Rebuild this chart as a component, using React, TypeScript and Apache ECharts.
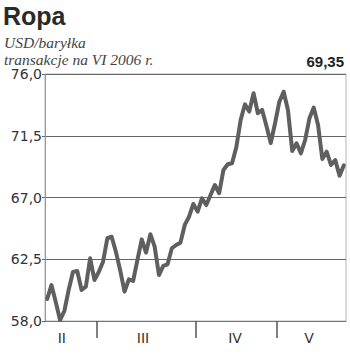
import React, { useEffect, useRef } from "react";
import * as echarts from "echarts";

// Daily crude oil prices (USD/barrel), contracts for VI 2006
const prices: number[] = [
  59.6, 60.62, 59.38, 58.07, 58.73, 60.26, 61.57, 61.64, 60.26, 60.5, 62.57, 60.99,
  61.57, 62.32, 64.03, 64.14, 63.03, 61.67, 60.14, 61.04, 60.92, 62.45, 63.95, 62.98,
  64.32, 63.42, 61.35, 62.01, 62.13, 63.3, 63.54, 63.71, 65.0, 65.6, 66.53,
  65.97, 66.94, 66.45, 67.18, 67.91, 67.31, 69.01, 69.42, 69.49, 70.68, 72.65, 73.79,
  73.26, 74.6, 73.14, 73.38, 72.21, 70.97, 72.41,
  73.98, 74.71, 73.38, 70.39, 70.95, 70.22, 71.19, 72.77, 73.55, 72.29, 69.81, 70.34,
  69.37, 69.73, 68.59, 69.35,
];

// trading days shown per month
const monthLabels: string[] = ["II", "III", "IV", "V"];
const monthDays: number[] = [12, 23, 19, 16];
// where each month label sits on the day axis
const monthLabelAt: number[] = [3.9, 22.8, 44.2, 61.4];

const yTicks: number[] = [58, 62.5, 67, 71.5, 76];

const titleText = "Ropa";
const subtitleLines: string[] = ["USD/baryłka", "transakcje na VI 2006 r."];

const fmt = (v: number, d: number) => v.toFixed(d).replace(".", ",");

export default function App() {
  const ref = useRef<HTMLDivElement>(null);
  useEffect(() => {
    if (!ref.current) return;
    const chart = echarts.init(ref.current, null, { renderer: "svg" });
    const boundaries: number[] = [];
    let acc = 0;
    monthDays.forEach((d, i) => {
      acc += d;
      if (i < monthDays.length - 1) boundaries.push(acc);
    });
    const total = monthDays.reduce((a, b) => a + b, 0);
    const data = prices.map((v, i) => [i + 0.5, v]);
    const last = prices[prices.length - 1];

    chart.setOption({
      animation: false,
      backgroundColor: "#ffffff",
      grid: {
        left: 45,
        right: 4,
        top: 74,
        bottom: 33,
        show: true,
        borderColor: "#b5b5b5",
        borderWidth: 1,
        backgroundColor: "transparent",
      },
      graphic: [
        {
          type: "text",
          x: 3,
          y: 16,
          style: {
            text: titleText,
            font: "bold 25px 'Liberation Sans', Arial, sans-serif",
            fill: "#2a2a2a",
            verticalAlign: "middle",
          },
        },
        {
          type: "text",
          x: 4,
          y: 42.5,
          style: {
            text: subtitleLines[0],
            font: "italic 15.5px 'Liberation Serif', serif",
            fill: "#444",
            verticalAlign: "middle",
          },
        },
        {
          type: "text",
          x: 4,
          y: 59,
          style: {
            text: subtitleLines[1],
            font: "italic 15.5px 'Liberation Serif', serif",
            fill: "#444",
            verticalAlign: "middle",
          },
        },
        {
          type: "text",
          x: 344,
          y: 61,
          style: {
            text: fmt(last, 2),
            font: "bold 15px 'Liberation Sans', Arial, sans-serif",
            fill: "#222",
            align: "right",
            verticalAlign: "middle",
          },
        },
      ],
      xAxis: {
        type: "value",
        min: 0,
        max: total,
        axisLine: { show: true, lineStyle: { color: "#777", width: 1 } },
        axisTick: {
          show: true,
          customValues: boundaries,
          length: 17,
          lineStyle: { color: "#555", width: 1.5 },
        },
        axisLabel: {
          show: true,
          customValues: monthLabelAt,
          formatter: (v: number) => {
            const idx = monthLabelAt.indexOf(v);
            return idx >= 0 ? monthLabels[idx] : "";
          },
          margin: 10,
          fontFamily: "'DejaVu Sans', sans-serif",
          fontSize: 14,
          color: "#333",
        },
        splitLine: { show: false },
      },
      yAxis: {
        type: "value",
        min: yTicks[0],
        max: yTicks[yTicks.length - 1],
        interval: yTicks[1] - yTicks[0],
        axisLine: { show: true, lineStyle: { color: "#999", width: 1 } },
        axisTick: { show: true, length: 3, lineStyle: { color: "#666" } },
        axisLabel: {
          formatter: (v: number) => fmt(v, 1),
          margin: 3,
          fontFamily: "'DejaVu Sans', sans-serif",
          fontSize: 14,
          color: "#333",
          padding: [4, 0, 0, 0],
        },
        splitLine: { show: true, lineStyle: { color: "#666", width: 1 } },
      },
      series: [
        {
          type: "line",
          data,
          showSymbol: false,
          symbol: "none",
          lineStyle: { color: "#5f5f5f", width: 4, join: "round", cap: "round" },
          z: 5,
        },
      ],
    });
    return () => chart.dispose();
  }, []);
  return (
    <div
      ref={ref}
      style={{ position: "fixed", left: 0, top: 0, width: 350, height: 354, background: "#fff" }}
    />
  );
}
